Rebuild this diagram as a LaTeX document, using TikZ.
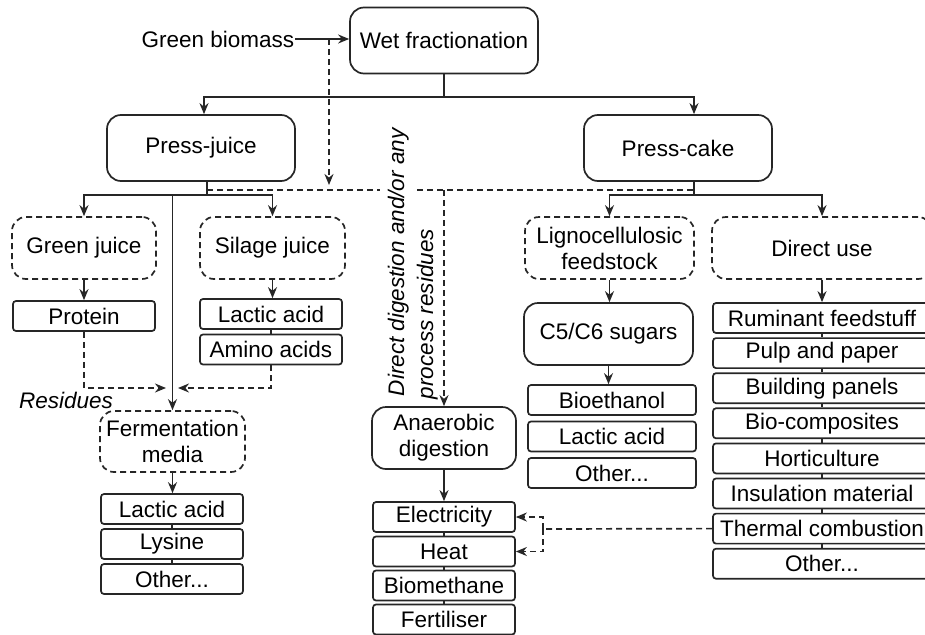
\documentclass[tikz,border=0pt]{standalone}
\usepackage{fontspec}
\setmainfont{Liberation Sans}
\usetikzlibrary{arrows.meta}
\newcommand{\moretxt}{Other...}

\begin{document}
\begin{tikzpicture}[
        x=1pt, y=-1pt, line width=1.7pt, draw=black!85,
        every node/.style={font=\fontsize{22.5}{26}\selectfont, inner sep=0pt, align=center},
        proc/.style={draw, rounded corners=14pt, minimum width=188pt, minimum height=66pt},
        group/.style={draw, dash pattern=on 6pt off 4pt, rounded corners=14pt, minimum width=145pt, minimum height=62pt},
        item/.style={draw, rounded corners=3pt, minimum width=142pt, minimum height=30pt},
        res/.style={dash pattern=on 6pt off 4pt},
        arr/.style={-{Stealth[length=11pt,width=9pt]}},
    ]
        \useasboundingbox (0,0) rectangle (925,634);
        \clip (0,0) rectangle (925,634);

        % main stages
        \node[proc] (wet) at (444,40.5) {Wet fractionation};
        \node[anchor=east] (gb) at (295,39) {Green biomass};
        \node[proc] (pj) at (201,148) {Press-juice};
        \node[proc] (pc) at (678,148) {Press-cake};

        % press-juice side
        \node[group, minimum width=144pt] (gj) at (84,248) {Green juice};
        \node[group] (sj) at (272.5,248) {Silage juice};
        \node[item] (prot) at (84,316) {Protein};
        \node[item] (la1) at (271,314) {Lactic acid};
        \node[item] (aa) at (271,349.5) {Amino acids};
        \node[group, minimum height=61pt] (ferm) at (172.5,441.5) {Fermentation\\media};
        \node[item] (la2) at (172,509) {Lactic acid};
        \node[item] (lys) at (172,544) {Lysine};
        \node[item] (oth1) at (172,579) {\moretxt};

        % digestion
        \node[proc, minimum width=144pt, minimum height=62pt] (ad) at (444,438) {Anaerobic\\digestion};
        \node[item] (elec) at (444,517) {Electricity};
        \node[item] (heat) at (444,551.5) {Heat};
        \node[item] (biom) at (444,585.5) {Biomethane};
        \node[item] (fert) at (444,619.5) {Fertiliser};

        % press-cake side
        \node[group, minimum width=169pt] (lf) at (609.5,248) {Lignocellulosic\\feedstock};
        \node[proc, minimum width=169pt, minimum height=62pt] (c56) at (608.5,334) {C5/C6 sugars};
        \node[item, minimum width=168pt] (bioeth) at (612,400) {Bioethanol};
        \node[item, minimum width=168pt] (la3) at (612,436.5) {Lactic acid};
        \node[item, minimum width=168pt] (oth2) at (612,473) {\moretxt};
        \node[group, minimum width=220pt] (du) at (822,248) {Direct use};
        \foreach \t [count=\i] in {Ruminant feedstuff, Pulp and paper, Building panels,
                Bio-composites, Horticulture, Insulation material, Thermal combustion, \moretxt}
            \node[item, minimum width=218pt] (r\i) at (822,{318+35.1*(\i-1)}) {\t};

        % branching lines
        \coordinate (split) at (444,97);
        \coordinate (pjb) at (207,195);
        \coordinate (pcb) at (694,195);
        \draw[arr] (gb.east) -- (wet.west |- gb.east);
        \draw (wet.south) -- (split);
        \draw[arr] (split) -| ([xshift=3pt]pj.north);
        \draw[arr] (split) -| ([xshift=16pt]pc.north);
        \draw ([xshift=6pt]pj.south) -- (pjb);
        \draw[arr] (pjb) -| (gj.north);
        \draw[arr] (pjb) -| (sj.north);
        \draw[arr] (pjb -| ferm.north) -- (ferm.north);
        \draw ([xshift=16pt]pc.south) -- (pcb);
        \draw[arr] (pcb) -| (lf.north);
        \draw[arr] (pcb) -| (du.north);
        \foreach \a/\b in {gj/prot, sj/la1, ferm/la2, lf/c56, c56/bioeth, du/r1, ad/elec}
            \draw[arr] (\a.south) -- (\a.south |- \b.north);
        \foreach \a/\b in {la1/aa, la2/lys, lys/oth1, elec/heat, heat/biom, biom/fert}
            \draw (\a.south) -- (\b.north);
        \foreach \i [count=\j from 2] in {1,2,3,4,5,6,7}
            \draw (r\i.south) -- (r\j.north);

        % residues to digestion
        \coordinate (tap) at (329,39);
        \coordinate (rl) at (207,190);
        \coordinate (rr) at (694,190);
        \draw[res] (rl) -- (rr);
        \draw[res, arr, shorten >=5pt] (tap) -- (tap |- rl);
        \draw[res, arr] (rl -| ad.north) -- (ad.north);

        % residues to fermentation
        \coordinate (rj) at (172,388);
        \draw[res, arr] (prot.south) |- ([xshift=-6pt]rj);
        \draw[res, arr] (aa.south) |- ([xshift=6pt]rj);
        \node[font=\fontsize{22.5}{26}\selectfont\itshape] (resid) at (66,400) {Residues};

        % combustion to energy
        \coordinate (hb) at (543,529);
        \draw[res] (r7.west) -- (hb);
        \draw[res, arr] (hb) |- (elec.east);
        \draw[res, arr] (hb) |- (heat.east);

        \node[rotate=90, anchor=west, fill=white, inner ysep=7pt, text height=17pt, text depth=5pt,
            font=\fontsize{22.5}{26}\selectfont\itshape] (dd1) at (398,397) {Direct digestion and/or any};
        \node[rotate=90, anchor=west, text height=17pt, text depth=5pt,
            font=\fontsize{22.5}{26}\selectfont\itshape] (dd2) at (427,400) {process residues};
    \end{tikzpicture}
\end{document}
